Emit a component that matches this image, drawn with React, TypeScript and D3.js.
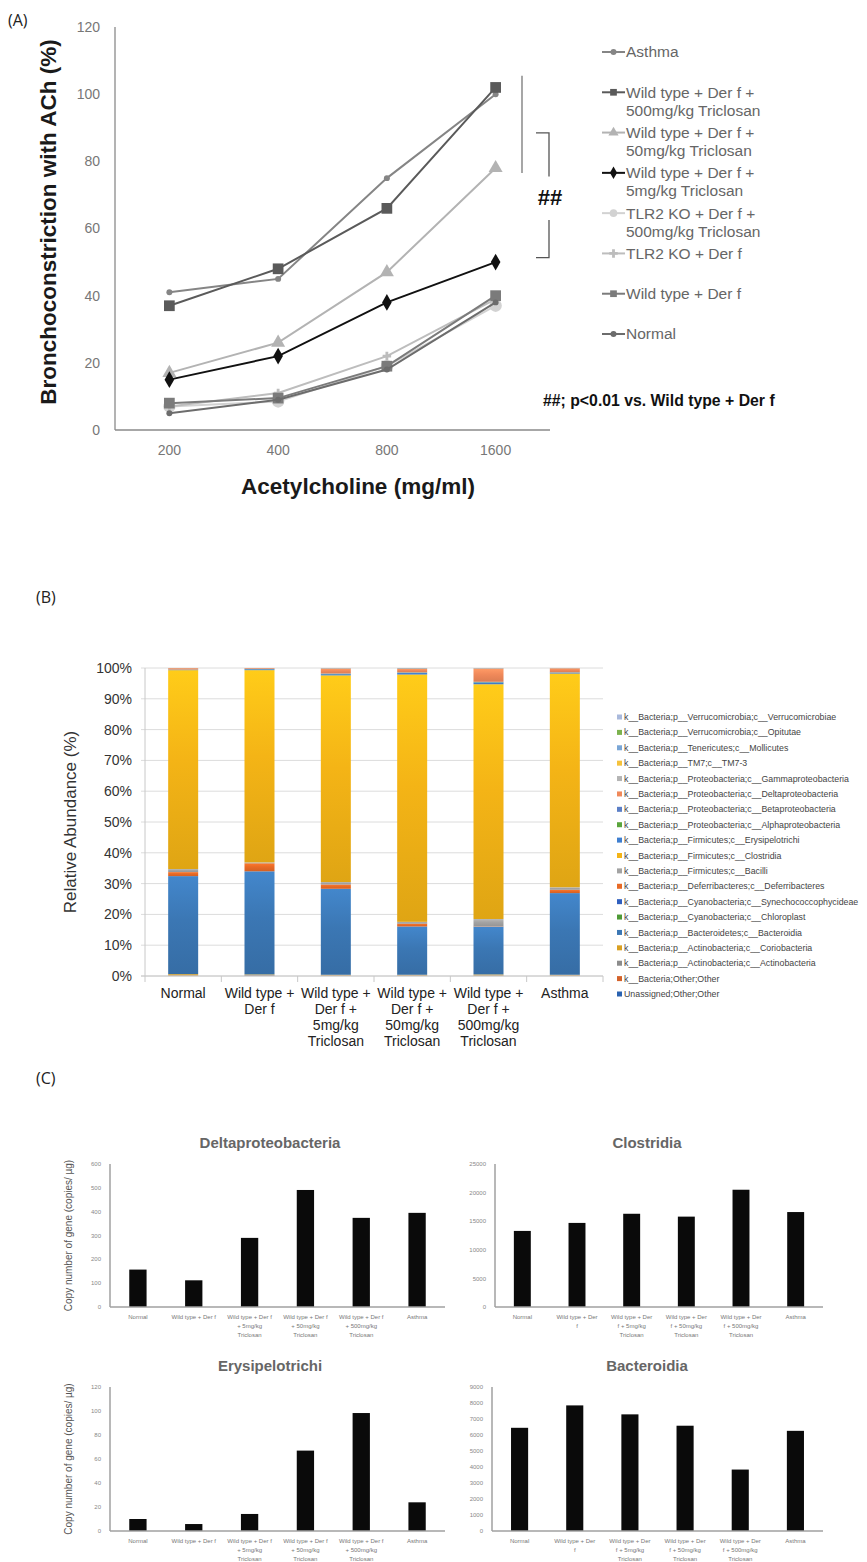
import React from "react";
import * as d3 from "d3";

const W = 867;
const H = 1562;
const FONT = "'Liberation Sans', Arial, sans-serif";
const LABEL_FONT = "'Open Sans', 'Noto Sans', sans-serif";

// ---------------- Panel A data ----------------
const doses = ["200", "400", "800", "1600"];
const yTicksA = [0, 20, 40, 60, 80, 100, 120];
const asthmaA = [41, 45, 75, 100];
const wt500A = [37, 48, 66, 102];
const wt50A = [17, 26, 47, 78];
const wt5A = [15, 22, 38, 50];
const tlr500A = [7, 8.5, 19, 37];
const tlrA = [7, 11, 22, 39];
const wtA = [8, 9.5, 19, 40];
const normalA = [5, 9, 18, 38];
const legendA = [
  ["Asthma"],
  ["Wild type + Der f +", "500mg/kg Triclosan"],
  ["Wild type + Der f +", "50mg/kg Triclosan"],
  ["Wild type + Der f +", "5mg/kg Triclosan"],
  ["TLR2 KO + Der f +", "500mg/kg Triclosan"],
  ["TLR2 KO + Der f"],
  ["Wild type + Der f"],
  ["Normal"],
];

// ---------------- Panel B data ----------------
const catsB = [
  ["Normal"],
  ["Wild type +", "Der f"],
  ["Wild type +", "Der f +", "5mg/kg", "Triclosan"],
  ["Wild type +", "Der f +", "50mg/kg", "Triclosan"],
  ["Wild type +", "Der f +", "500mg/kg", "Triclosan"],
  ["Asthma"],
];
const taxaB = [
  "k__Bacteria;p__Verrucomicrobia;c__Verrucomicrobiae",
  "k__Bacteria;p__Verrucomicrobia;c__Opitutae",
  "k__Bacteria;p__Tenericutes;c__Mollicutes",
  "k__Bacteria;p__TM7;c__TM7-3",
  "k__Bacteria;p__Proteobacteria;c__Gammaproteobacteria",
  "k__Bacteria;p__Proteobacteria;c__Deltaproteobacteria",
  "k__Bacteria;p__Proteobacteria;c__Betaproteobacteria",
  "k__Bacteria;p__Proteobacteria;c__Alphaproteobacteria",
  "k__Bacteria;p__Firmicutes;c__Erysipelotrichi",
  "k__Bacteria;p__Firmicutes;c__Clostridia",
  "k__Bacteria;p__Firmicutes;c__Bacilli",
  "k__Bacteria;p__Deferribacteres;c__Deferribacteres",
  "k__Bacteria;p__Cyanobacteria;c__Synechococcophycideae",
  "k__Bacteria;p__Cyanobacteria;c__Chloroplast",
  "k__Bacteria;p__Bacteroidetes;c__Bacteroidia",
  "k__Bacteria;p__Actinobacteria;c__Coriobacteria",
  "k__Bacteria;p__Actinobacteria;c__Actinobacteria",
  "k__Bacteria;Other;Other",
  "Unassigned;Other;Other",
];
const taxaColors = [
  "#a9b9dc", "#7cb24e", "#7aa6d6", "#f5c23c", "#b4b4b4", "#f0895a", "#5b7fc7",
  "#5aa53c", "#3f7fd0", "#f4b416", "#a3a3a3", "#e86a26", "#2f5fbf", "#4e9a36",
  "#3b77b4", "#d9a022", "#8c8c8c", "#d4622a", "#2a62b0",
];
const normalB = [0, 0, 0, 0, 0.05, 0.45, 0.05, 0.05, 0.1, 64.5, 1.0, 1.3, 0, 0, 31.8, 0.4, 0.1, 0.1, 0];
const wtB = [0, 0, 0, 0, 0.05, 0.25, 0.05, 0.05, 0.3, 62.6, 0.3, 2.6, 0, 0, 33.6, 0.2, 0.1, 0.1, 0.1];
const wt5B = [0, 0, 0, 0, 0.2, 1.6, 0.1, 0.1, 0.4, 67.3, 0.8, 1.4, 0, 0, 28.0, 0.2, 0.1, 0.1, 0];
const wt50B = [0, 0, 0, 0, 0.3, 1.1, 0.1, 0.1, 0.5, 79.9, 0.6, 0.9, 0, 0, 15.6, 0.2, 0.1, 0.1, 0];
const wt500B = [0, 0, 0, 0, 0.2, 4.3, 0.1, 0.1, 0.6, 76.6, 2.4, 0.1, 0, 0, 15.6, 0.3, 0.1, 0.1, 0];
const asthmaB = [0, 0, 0, 0, 0.1, 1.3, 0.05, 0.05, 0.3, 69.6, 0.8, 1.1, 0, 0, 26.6, 0.2, 0.1, 0.1, 0];
const yTicksB = [0, 0.1, 0.2, 0.3, 0.4, 0.5, 0.6, 0.7, 0.8, 0.9, 1.0];

// ---------------- Panel C data ----------------
const groupsC = ["Normal", "WT", "WT5", "WT50", "WT500", "Asthma"];
const labelsCL = [
  ["Normal"],
  ["Wild type + Der f"],
  ["Wild type + Der f", "+ 5mg/kg", "Triclosan"],
  ["Wild type + Der f", "+ 50mg/kg", "Triclosan"],
  ["Wild type + Der f", "+ 500mg/kg", "Triclosan"],
  ["Asthma"],
];
const labelsCR = [
  ["Normal"],
  ["Wild type + Der", "f"],
  ["Wild type + Der", "f + 5mg/kg", "Triclosan"],
  ["Wild type + Der", "f + 50mg/kg", "Triclosan"],
  ["Wild type + Der", "f + 500mg/kg", "Triclosan"],
  ["Asthma"],
];
const deltaVals = [157, 112, 290, 491, 374, 395];
const clostVals = [13300, 14700, 16300, 15800, 20500, 16600];
const erysVals = [10, 5.8, 14.2, 67, 98.3, 23.9];
const bactVals = [6450, 7850, 7290, 6580, 3840, 6260];

// ---------------- Panel A ----------------
function PanelA() {
  const xA = d3.scaleBand<string>().domain(doses).range([115, 550]).padding(0);
  const yA = d3.scaleLinear().domain([0, 120]).range([430, 27]);
  const cx = (i: number) => (xA(doses[i]) as number) + xA.bandwidth() / 2;
  const line = d3.line<number>().x((_, i) => cx(i)).y((d) => yA(d));

  const series = [
    { v: asthmaA, color: "#858585", sym: d3.symbolCircle, size: 28 },
    { v: wt500A, color: "#5a5a5a", sym: d3.symbolSquare, size: 115 },
    { v: wt50A, color: "#b3b3b3", sym: d3.symbolTriangle, size: 85 },
    { v: wt5A, color: "#111111", sym: d3.symbolDiamond, size: 80 },
    { v: tlr500A, color: "#d2d2d2", sym: d3.symbolCircle, size: 120 },
    { v: tlrA, color: "#bdbdbd", sym: d3.symbolCross, size: 40 },
    { v: wtA, color: "#7b7b7b", sym: d3.symbolSquare, size: 115 },
    { v: normalA, color: "#6c6c6c", sym: d3.symbolCircle, size: 28 },
  ];
  const legendScale = d3.scaleLinear().domain([0, 7]).range([52, 334]);
  const symLegendSize = (s: number) => Math.min(s, 45);

  return (
    <g fontFamily={FONT}>
      <text x={8} y={26} fontFamily={LABEL_FONT} fontSize={16} fill="#222">(A)</text>
      <line x1={115} x2={115} y1={yA(120)} y2={yA(0)} stroke="#8a8a8a" strokeWidth={1.3} />
      <line x1={115} x2={550} y1={yA(0)} y2={yA(0)} stroke="#8a8a8a" strokeWidth={1.3} />
      {yTicksA.map((t) => (
        <text key={t} x={100} y={yA(t)} dy="0.35em" textAnchor="end" fontSize={14} fill="#777">{t}</text>
      ))}
      {doses.map((d, i) => (
        <text key={d} x={cx(i)} y={450} dy="0.35em" textAnchor="middle" fontSize={14} fill="#777">{d}</text>
      ))}
      <text x={358} y={486} dy="0.35em" textAnchor="middle" fontSize={22.5} fontWeight="bold" fill="#1a1a1a">Acetylcholine (mg/ml)</text>
      <text transform={`translate(48,${222}) rotate(-90)`} dy="0.35em" textAnchor="middle" fontSize={22.5} fontWeight="bold" fill="#1a1a1a">Bronchoconstriction with ACh (%)</text>
      {series.map((s, k) => (
        <g key={k}>
          <path d={line(s.v) as string} fill="none" stroke={s.color} strokeWidth={2} />
          {s.v.map((v, i) => (
            <path key={i} transform={`translate(${cx(i)},${yA(v)})`} d={d3.symbol(s.sym, s.size)() as string} fill={s.color} />
          ))}
        </g>
      ))}
      <line x1={522} x2={522} y1={yA(105.5)} y2={yA(76.5)} stroke="#777" strokeWidth={1.3} />
      <path d={`M536,${yA(88.5)}H549V${yA(75.5)}M549,${yA(62.5)}V${yA(51.3)}H536`} fill="none" stroke="#555" strokeWidth={1.3} />
      <text x={550} y={yA(69.2)} dy="0.35em" textAnchor="middle" fontSize={22} fontWeight="bold" fill="#111">##</text>
      <text x={543} y={400} dy="0.35em" fontSize={15.8} fontWeight="bold" fill="#111">##; p&lt;0.01 vs. Wild type + Der f</text>
      {legendA.map((lines, k) => {
        const y0 = legendScale(k);
        const s = series[k];
        return (
          <g key={k}>
            <line x1={602} x2={625} y1={y0} y2={y0} stroke={s.color} strokeWidth={2} />
            <path transform={`translate(613.5,${y0})`} d={d3.symbol(s.sym, symLegendSize(s.size))() as string} fill={s.color} />
            {lines.map((l, j) => (
              <text key={j} x={626} y={y0 + j * 18} dy="0.35em" fontSize={15.5} fill="#666">{l}</text>
            ))}
          </g>
        );
      })}
    </g>
  );
}

// ---------------- Panel B ----------------
function PanelB() {
  const keys = catsB.map((c) => c.join(" "));
  const groups = [normalB, wtB, wt5B, wt50B, wt500B, asthmaB];
  const rows = keys.map((k, i) => {
    const r: any = { cat: k };
    taxaB.forEach((t, j) => (r[t] = groups[i][j]));
    return r;
  });
  const stackKeys = taxaB.slice().reverse();
  const stacked = d3.stack<any>().keys(stackKeys).offset(d3.stackOffsetExpand)(rows);
  const xB = d3.scaleBand<string>().domain(keys).range([145, 603]).paddingInner(0.607).paddingOuter(0.3035);
  const yB = d3.scaleLinear().domain([0, 1]).range([976, 668]);
  const step = xB.step();
  const bounds = d3.range(keys.length + 1).map((i) => 145 + i * step);
  const colorOf = (t: string) => taxaColors[taxaB.indexOf(t)];
  const fmt = d3.format(".0%");
  const legY = d3.scaleLinear().domain([0, 18]).range([717, 994]);

  return (
    <g fontFamily={FONT}>
      <defs>
        {taxaB.map((t, j) => {
          const c = d3.color(taxaColors[j]) as d3.RGBColor;
          return (
            <linearGradient key={j} id={`gB${j}`} x1="0" y1="0" x2="0" y2="1">
              <stop offset="0%" stopColor={c.brighter(0.35).formatHex()} />
              <stop offset="45%" stopColor={c.formatHex()} />
              <stop offset="100%" stopColor={c.darker(0.25).formatHex()} />
            </linearGradient>
          );
        })}
      </defs>
      <text x={36} y={603} fontFamily={LABEL_FONT} fontSize={16} fill="#222">(B)</text>
      {yTicksB.map((t) => (
        <g key={t}>
          <line x1={141} x2={603} y1={yB(t)} y2={yB(t)} stroke="#dcdcdc" strokeWidth={1} />
          <text x={132} y={yB(t)} dy="0.35em" textAnchor="end" fontSize={14} fill="#333">{fmt(t)}</text>
        </g>
      ))}
      <line x1={145} x2={145} y1={yB(1)} y2={yB(0)} stroke="#c8c8c8" strokeWidth={1} />
      {bounds.map((b, i) => (
        <line key={i} x1={b} x2={b} y1={yB(0)} y2={yB(0) + 6} stroke="#c8c8c8" strokeWidth={1} />
      ))}
      {stacked.map((layer) => (
        <g key={layer.key} fill={`url(#gB${taxaB.indexOf(layer.key)})`}>
          {layer.map((d, i) => (
            <rect key={i} x={xB(keys[i])} width={xB.bandwidth()} y={yB(d[1])} height={Math.max(0, yB(d[0]) - yB(d[1]))} />
          ))}
        </g>
      ))}
      <line x1={141} x2={603} y1={yB(0)} y2={yB(0)} stroke="#c8c8c8" strokeWidth={1} />
      {catsB.map((lines, i) => (
        <g key={i}>
          {lines.map((l, j) => (
            <text key={j} x={(xB(keys[i]) as number) + xB.bandwidth() / 2} y={993 + j * 16} dy="0.35em" textAnchor="middle" fontSize={14} fill="#222">{l}</text>
          ))}
        </g>
      ))}
      <text transform={`translate(70,822) rotate(-90)`} dy="0.35em" textAnchor="middle" fontSize={17} fill="#333">Relative Abundance (%)</text>
      {taxaB.map((t, j) => (
        <g key={t}>
          <rect x={617} y={legY(j) - 2.5} width={5} height={5} fill={colorOf(t)} />
          <text x={624} y={legY(j)} dy="0.35em" fontSize={8.8} fill="#444">{t}</text>
        </g>
      ))}
    </g>
  );
}

// ---------------- Panel C ----------------
type BarProps = {
  title: string;
  titleX: number;
  values: number[];
  maxV: number;
  tickStep: number;
  left: number;
  right: number;
  top: number;
  bottom: number;
  labels: string[][];
  yTitle: boolean;
};

function BarC(p: BarProps) {
  const x = d3.scaleBand<string>().domain(groupsC).range([p.left, p.right]).paddingInner(0.69).paddingOuter(0.345);
  const y = d3.scaleLinear().domain([0, p.maxV]).range([p.bottom, p.top]);
  const ticks = d3.range(0, p.maxV + p.tickStep / 2, p.tickStep);
  return (
    <g fontFamily={FONT}>
      <text x={p.titleX} y={p.top - 21} dy="0.35em" textAnchor="middle" fontSize={15} fontWeight="bold" fill="#666">{p.title}</text>
      {ticks.map((t) => (
        <text key={t} x={p.left - 9} y={y(t)} dy="0.35em" textAnchor="end" fontSize={6} fill="#888">{t}</text>
      ))}
      {p.values.map((v, i) => (
        <rect key={i} x={x(groupsC[i])} width={x.bandwidth()} y={y(v)} height={y(0) - y(v)} fill="#0a0a0a" />
      ))}
      <line x1={p.left} x2={p.left} y1={p.top} y2={p.bottom} stroke="#a0a0a0" strokeWidth={1.5} />
      <line x1={p.left} x2={p.right} y1={p.bottom} y2={p.bottom} stroke="#a0a0a0" strokeWidth={1.5} />
      {p.labels.map((lines, i) => (
        <g key={i}>
          {lines.map((l, j) => (
            <text key={j} x={(x(groupsC[i]) as number) + x.bandwidth() / 2} y={p.bottom + 10 + j * 9} dy="0.35em" textAnchor="middle" fontSize={6} fill="#777">{l}</text>
          ))}
        </g>
      ))}
      {p.yTitle && (
        <text transform={`translate(68,${(p.top + p.bottom) / 2}) rotate(-90)`} dy="0.35em" textAnchor="middle" fontSize={10} fill="#555">Copy number of gene (copies/ µg)</text>
      )}
    </g>
  );
}

function PanelC() {
  return (
    <g>
      <text x={36} y={1084} fontFamily={LABEL_FONT} fontSize={16} fill="#222">(C)</text>
      <BarC title="Deltaproteobacteria" titleX={270} values={deltaVals} maxV={600} tickStep={100} left={110} right={445} top={1164} bottom={1307} labels={labelsCL} yTitle={true} />
      <BarC title="Clostridia" titleX={647} values={clostVals} maxV={25000} tickStep={5000} left={495} right={823} top={1164} bottom={1307} labels={labelsCR} yTitle={false} />
      <BarC title="Erysipelotrichi" titleX={270} values={erysVals} maxV={120} tickStep={20} left={110} right={445} top={1387} bottom={1531} labels={labelsCL} yTitle={true} />
      <BarC title="Bacteroidia" titleX={647} values={bactVals} maxV={9000} tickStep={1000} left={492} right={823} top={1387} bottom={1531} labels={labelsCR} yTitle={false} />
    </g>
  );
}

export default function App() {
  return (
    <svg width={W} height={H} viewBox={`0 0 ${W} ${H}`} style={{ position: "absolute", left: 0, top: 0, background: "#fff" }}>
      <rect width={W} height={H} fill="#fff" />
      <PanelA />
      <PanelB />
      <PanelC />
    </svg>
  );
}
